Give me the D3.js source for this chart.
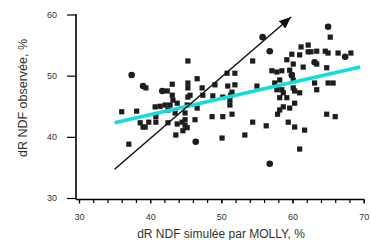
<!DOCTYPE html>
<html>
<head>
    <meta charset="utf-8">
    <script src="https://cdn.jsdelivr.net/npm/d3@7"></script>
    <style>
        body { margin: 0; background: #fff; }
        svg { display: block; font-family: "Liberation Sans", Arial, sans-serif; }
    </style>
</head>
<body>
<script>
    const squarePts = [
        [39.4, 48.0], [42.4, 47.5], [43.1, 48.6], [43.1, 46.8], [43.2, 46.0], [45.3, 52.4],
        [45.3, 48.8], [45.3, 48.0], [45.3, 46.5], [36.0, 44.1], [38.1, 44.2], [40.7, 44.9],
        [41.4, 45.0], [42.1, 45.2], [42.8, 45.2], [43.8, 45.5], [43.5, 43.9], [44.9, 43.9],
        [42.5, 44.4], [38.6, 42.3], [39.0, 41.6], [39.3, 41.6], [39.8, 42.4], [40.8, 42.4],
        [40.8, 43.3], [42.5, 42.3], [43.8, 42.1], [44.5, 42.4], [44.9, 41.9], [43.6, 40.3],
        [44.6, 41.0], [45.2, 41.5], [37.0, 38.8], [45.6, 46.8], [47.4, 46.8], [48.8, 46.7],
        [50.2, 46.5], [51.3, 46.8], [51.2, 46.0], [45.2, 45.2], [46.6, 44.7], [51.2, 45.2],
        [44.9, 42.8], [46.3, 42.8], [48.7, 43.3], [50.2, 43.3], [51.5, 43.7], [50.1, 39.8],
        [53.3, 40.3], [46.6, 49.5], [47.3, 48.0], [49.1, 48.5], [50.9, 48.3], [51.9, 48.5],
        [51.5, 47.3], [50.8, 50.4], [51.9, 50.4], [54.4, 52.4], [55.0, 48.3], [57.1, 50.8],
        [57.8, 50.6], [58.5, 50.8], [59.6, 50.9], [59.9, 50.1], [58.2, 49.3], [57.5, 48.8],
        [60.1, 49.3], [57.8, 47.7], [58.5, 47.7], [60.1, 48.0], [60.3, 47.5], [61.0, 47.2],
        [58.7, 47.2], [58.2, 46.4], [59.2, 46.4], [60.3, 45.5], [58.7, 44.9], [59.6, 44.7],
        [58.2, 44.4], [57.9, 43.7], [54.4, 42.4], [56.3, 41.8], [59.4, 42.4], [60.3, 41.6],
        [61.7, 41.1], [61.0, 38.0], [59.9, 53.5], [61.0, 53.4], [61.2, 54.7], [62.2, 55.0],
        [62.2, 53.9], [59.2, 52.6], [60.1, 51.9], [61.5, 51.4], [63.4, 51.9], [64.8, 51.3],
        [65.3, 56.3], [62.6, 53.9], [63.4, 54.0], [64.6, 54.0], [65.0, 53.7], [66.4, 53.7],
        [68.2, 53.7], [63.1, 48.8], [63.4, 47.7], [65.0, 48.8], [65.7, 48.8], [64.8, 43.7],
        [66.0, 43.3]
    ];
    const circlePts = [
        [37.4, 50.1], [39.0, 48.3], [41.7, 47.5], [46.4, 39.2], [55.8, 56.3], [56.8, 54.0],
        [56.8, 35.6], [63.1, 52.2], [65.0, 58.0], [67.4, 53.1], [59.9, 50.1]
    ];
    // regression line (cyan) and 1:1 arrow
    const fitLine = [[35, 42.3], [69.5, 51.4]];
    const oneToOne = [[35, 34.7], [59.8, 59.6]];

    const xTicks = [30, 40, 50, 60, 70];
    const xMinor = d3.range(30, 71, 2);
    const yTicks = [30, 40, 50, 60];
    const xTitle = 'dR NDF simulée par MOLLY, %';
    const yTitle = 'dR NDF observée, %';

    const width = 371, height = 240;
    const svg = d3.select('body').append('svg')
        .attr('width', width)
        .attr('height', height);

    const x = d3.scaleLinear().domain([30, 70]).range([79, 363.7]);
    const y = d3.scaleLinear().domain([30, 60]).range([198, 14.5]);
    const axisX = 76, axisY = 199.5;

    // arrowhead
    svg.append('defs').append('marker')
        .attr('id', 'head')
        .attr('markerUnits', 'userSpaceOnUse')
        .attr('viewBox', '0 0 12 10')
        .attr('refX', 12).attr('refY', 5)
        .attr('markerWidth', 12).attr('markerHeight', 10)
        .attr('orient', 'auto')
        .append('path')
        .attr('d', 'M0,0 L12,5 L0,10 Z')
        .attr('fill', '#111');

    // y axis
    const gy = svg.append('g')
        .attr('transform', `translate(${axisX},0)`)
        .call(d3.axisLeft(y).tickValues(yTicks).tickSize(9).tickPadding(10).tickSizeOuter(0));
    gy.select('.domain').attr('d', `M0,${y(60) - 0.5}V${axisY}`);

    // x axis, minor then major ticks
    svg.append('g')
        .attr('transform', `translate(0,${axisY})`)
        .call(d3.axisBottom(x).tickValues(xMinor).tickSize(3.5).tickFormat('').tickSizeOuter(0))
        .select('.domain').remove();
    const gx = svg.append('g')
        .attr('transform', `translate(0,${axisY})`)
        .call(d3.axisBottom(x).tickValues(xTicks).tickSize(4).tickPadding(10).tickSizeOuter(0));
    gx.select('.domain').attr('d', `M${axisX},0H${x(70) + 0.5}`);

    svg.selectAll('.domain').attr('stroke', '#000').attr('stroke-width', 1.6);
    svg.selectAll('.tick line').attr('stroke', '#000').attr('stroke-width', 1.2);
    svg.selectAll('.tick text')
        .attr('font-size', 9)
        .attr('fill', '#333')
        .style('font-family', '"Liberation Sans", Arial, sans-serif');

    // points
    svg.append('g').selectAll('rect')
        .data(squarePts)
        .join('rect')
        .attr('x', d => x(d[0]) - 2.6)
        .attr('y', d => y(d[1]) - 2.6)
        .attr('width', 5.2)
        .attr('height', 5.2)
        .attr('fill', '#1d1d1d');

    svg.append('g').selectAll('circle')
        .data(circlePts)
        .join('circle')
        .attr('cx', d => x(d[0]))
        .attr('cy', d => y(d[1]))
        .attr('r', 3.3)
        .attr('fill', '#1d1d1d');

    const line = d3.line().x(d => x(d[0])).y(d => y(d[1]));

    svg.append('path')
        .attr('d', line(fitLine))
        .attr('stroke', '#12dcdc')
        .attr('stroke-width', 3.6)
        .attr('fill', 'none');

    svg.append('path')
        .attr('d', line(oneToOne))
        .attr('stroke', '#111')
        .attr('stroke-width', 1.5)
        .attr('fill', 'none')
        .attr('marker-end', 'url(#head)');

    // titles
    svg.append('text')
        .attr('x', 221)
        .attr('y', 238)
        .attr('text-anchor', 'middle')
        .attr('font-size', 12)
        .attr('fill', '#333')
        .text(xTitle);

    svg.append('text')
        .attr('transform', 'translate(27,98) rotate(-90)')
        .attr('text-anchor', 'middle')
        .attr('font-size', 12.5)
        .attr('fill', '#333')
        .text(yTitle);
</script>
</body>
</html>
